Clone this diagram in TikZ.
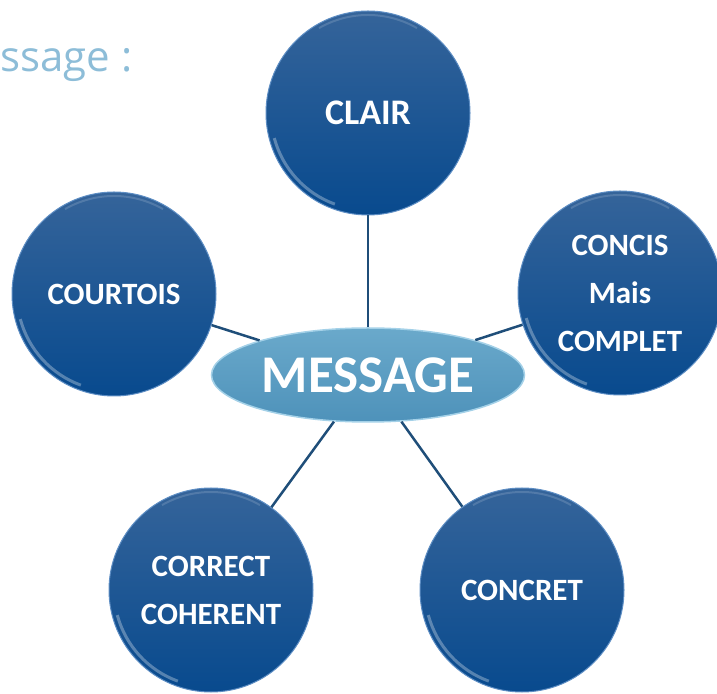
\documentclass[tikz,border=0pt]{standalone}
\usepackage{fontspec}
\setmainfont{Carlito}
\newfontfamily\titlefont{Open Sans}
\usepackage{xcolor}
\usepackage{tikz}
\usetikzlibrary{shapes.geometric, positioning}

\definecolor{bubbletop}{HTML}{35649A}
\definecolor{bubblebot}{HTML}{084A8E}
\definecolor{bubblerim}{HTML}{5E8EC4}
\definecolor{msgtop}{HTML}{6AA9CB}
\definecolor{msgbot}{HTML}{4E92BA}
\definecolor{msgrim}{HTML}{A4D1E8}
\definecolor{linkblue}{HTML}{1F4E79}
\definecolor{titleblue}{HTML}{8DBDD8}

\begin{document}
\begin{tikzpicture}[
  x=1pt, y=1pt,
  bubble/.style={
    circle,
    minimum size=204pt,
    inner sep=0pt,
    top color=bubbletop,
    bottom color=bubblebot,
    draw=bubblerim,
    line width=1pt,
    text=white,
    align=center,
    path picture={
      \draw [white, opacity=0.3, line width=3pt]
        (path picture bounding box.center) ++(195:97pt) arc (195:250:97pt);
      \draw [white, opacity=0.15, line width=2pt]
        (path picture bounding box.center) ++(60:98pt) arc (60:120:98pt);
    }
  },
  big/.style={font=\bfseries\fontsize{36}{44}\selectfont},
  small/.style={font=\bfseries\fontsize{31}{48}\selectfont},
  msg/.style={
    ellipse,
    minimum width=313pt,
    minimum height=94pt,
    inner sep=0pt,
    top color=msgtop,
    bottom color=msgbot,
    draw=msgrim,
    line width=1.5pt,
    text=white,
    font=\bfseries\fontsize{53}{60}\selectfont
  },
  link/.style={
    line width=2.5pt,
    linkblue
  }
]
\useasboundingbox (0,0) rectangle (717,693);

\node [anchor=base west, text=titleblue, font=\titlefont\fontsize{42}{50}\selectfont]
  (title) at (-3,621) {ssage :};

\node [msg] (message) at (368,318) {MESSAGE};

\node [bubble, big] (clair) at (368,580) {CLAIR};
\node [bubble, small] (concis) at (620,400) {CONCIS\\Mais\\COMPLET};
\node [bubble, small] (courtois) at (114,399) {COURTOIS};
\node [bubble, small] (correct) at (211,103) {CORRECT\\COHERENT};
\node [bubble, small] (concret) at (522,103) {CONCRET};

\draw [link] (clair) -- (message);
\draw [link] (concis) -- (message);
\draw [link] (courtois) -- (message);
\draw [link] (correct) -- (message);
\draw [link] (concret) -- (message);

\end{tikzpicture}
\end{document}
